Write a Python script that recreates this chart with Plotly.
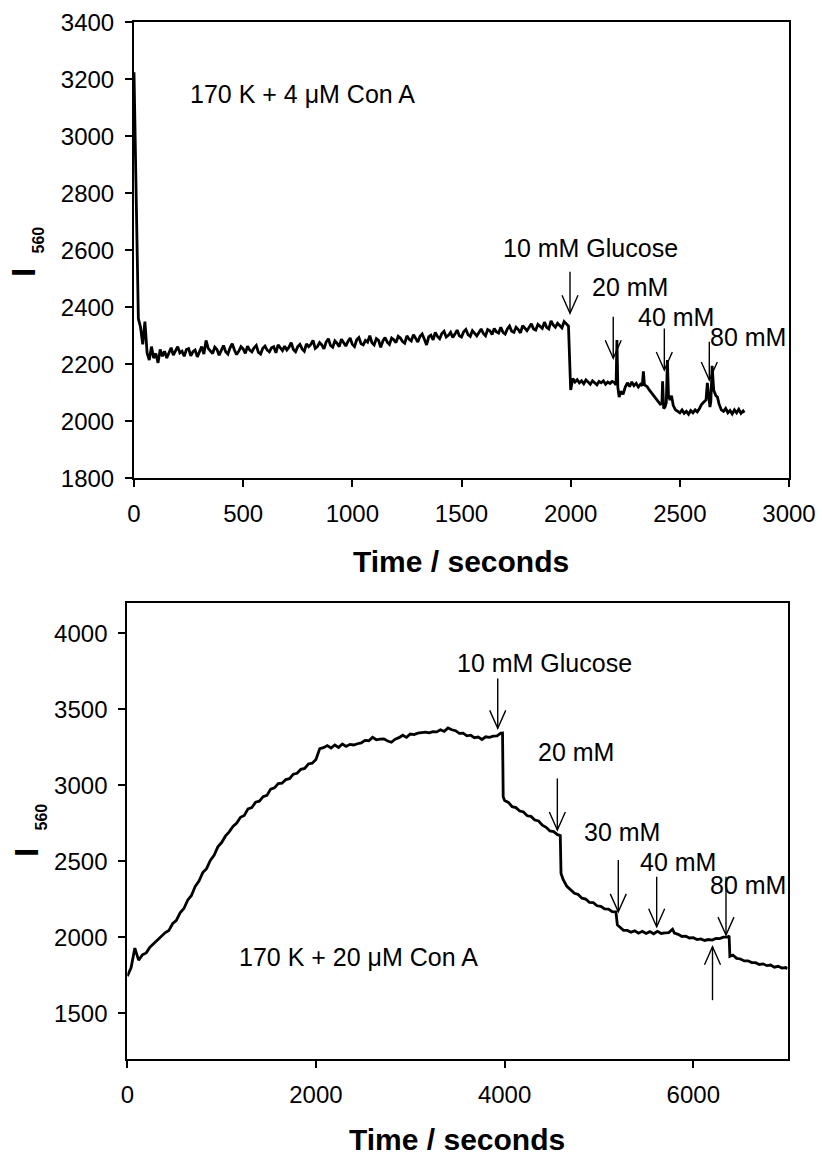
import plotly.graph_objects as go

# ---------------- data ----------------
# Upper panel: 170 K + 4 uM Con A, intensity at 560 nm vs time (s)
top_t = list(range(0, 2000, 10)) + [
    2000, 2010, 2020, 2030, 2040, 2050, 2060, 2070, 2080, 2090,
    2100, 2110, 2120, 2130, 2140, 2150, 2160, 2170, 2180, 2190,
    2200, 2208, 2212, 2216, 2222, 2230, 2240, 2250, 2260, 2270,
    2280, 2290, 2300, 2310, 2320, 2328, 2333, 2338, 2350, 2360,
    2370, 2380, 2390, 2400, 2410, 2418, 2421, 2426, 2432, 2438,
    2443, 2448, 2455, 2462, 2470, 2480, 2490, 2500, 2510, 2520,
    2530, 2540, 2550, 2560, 2570, 2580, 2590, 2600, 2610, 2620,
    2626, 2632, 2638, 2642, 2648, 2655, 2665, 2672, 2680, 2690,
    2700, 2710, 2720, 2730, 2740, 2750, 2760, 2770, 2780, 2790, 2795,
]
top_i = [
    3225, 2800, 2360, 2330, 2270, 2350, 2240, 2215, 2262, 2222, 2238, 2205, 2252, 2228, 2246, 2222, 2242, 2258, 2232, 2250,
    2262, 2240, 2246, 2228, 2252, 2255, 2230, 2244, 2250, 2226, 2248, 2262, 2236, 2284, 2256, 2248, 2238, 2260, 2252, 2232,
    2248, 2266, 2244, 2236, 2258, 2272, 2250, 2234, 2246, 2262, 2254, 2238, 2264, 2250, 2244, 2258, 2266, 2242, 2236, 2256,
    2264, 2250, 2244, 2258, 2262, 2240, 2268, 2256, 2248, 2264, 2250, 2260, 2276, 2252, 2244, 2262, 2270, 2254, 2246, 2272,
    2262, 2270, 2284, 2256, 2262, 2276, 2268, 2254, 2278, 2290, 2266, 2260, 2282, 2274, 2262, 2288, 2276, 2264, 2280, 2292,
    2270, 2262, 2286, 2294, 2272, 2268, 2284, 2278, 2300, 2276, 2268, 2290, 2284, 2260, 2282, 2294, 2278, 2270, 2292, 2286,
    2276, 2298, 2292, 2280, 2274, 2300, 2288, 2282, 2304, 2290, 2278, 2298, 2306, 2288, 2268, 2296, 2302, 2286, 2312, 2298,
    2290, 2308, 2316, 2296, 2302, 2312, 2294, 2306, 2320, 2300, 2296, 2314, 2322, 2304, 2298, 2318, 2310, 2300, 2312, 2324,
    2308, 2300, 2322, 2318, 2304, 2326, 2314, 2310, 2330, 2312, 2306, 2324, 2334, 2316, 2312, 2330, 2322, 2310, 2336, 2326,
    2318, 2330, 2342, 2324, 2320, 2340, 2334, 2326, 2348, 2330, 2324, 2352, 2338, 2330, 2344, 2336, 2328, 2350, 2342, 2334,
    2110, 2150, 2138, 2146, 2135, 2142, 2132, 2145, 2138, 2130,
    2142, 2136, 2128, 2140, 2135, 2142, 2130, 2138, 2133, 2140,
    2136, 2128, 2285, 2120, 2085, 2105, 2095, 2120, 2135, 2122,
    2138, 2125, 2133, 2120, 2130, 2125, 2175, 2128, 2122, 2110,
    2100, 2090, 2082, 2070, 2060, 2062, 2140, 2045, 2050, 2065,
    2215, 2090, 2075, 2090, 2055, 2040, 2035, 2030, 2040, 2028,
    2035, 2025, 2038, 2030, 2040, 2033, 2045, 2060, 2068, 2075,
    2135, 2100, 2050, 2070, 2195, 2110, 2090, 2085, 2060, 2040,
    2035, 2045, 2030, 2038, 2026, 2040, 2030, 2042, 2028, 2036, 2030,
]

# Lower panel: 170 K + 20 uM Con A
bot_t = [
    0, 40, 80, 120, 160, 200, 240, 280, 320, 360, 400, 440, 480, 520, 560, 600, 640, 680, 720, 760,
    800, 840, 880, 920, 960, 1000, 1040, 1080, 1120, 1160, 1200, 1240, 1280, 1320, 1360, 1400, 1440, 1480, 1520, 1560,
    1600, 1640, 1680, 1720, 1760, 1800, 1840, 1880, 1920, 1960, 2000, 2040, 2080, 2120, 2160, 2200, 2240, 2280, 2320, 2360,
    2400, 2440, 2480, 2520, 2560, 2600, 2640, 2680, 2720, 2760, 2800, 2840, 2880, 2920, 2960, 3000, 3040, 3080, 3120, 3160,
    3200, 3240, 3280, 3320, 3360, 3400, 3440, 3480, 3520, 3560, 3600, 3640, 3680, 3720, 3760, 3800, 3840, 3880, 3920, 3960,
    3978, 3985, 4000, 4040, 4080, 4120, 4160, 4200, 4240, 4280, 4320, 4360, 4400, 4440, 4480, 4520, 4560, 4590,
    4598, 4620, 4660, 4700, 4740, 4780, 4820, 4860, 4900, 4940, 4980, 5020, 5060, 5100, 5140, 5180,
    5195, 5220, 5260, 5300, 5340, 5380, 5420, 5460, 5500, 5540, 5580, 5620, 5660, 5700, 5740, 5780, 5800, 5840, 5880, 5920,
    5960, 6000, 6040, 6080, 6120, 6160, 6200, 6240, 6280, 6320, 6360, 6380,
    6388, 6420, 6460, 6500, 6540, 6580, 6620, 6660, 6700, 6740, 6780, 6820, 6860, 6900, 6940, 6980, 7000,
]
bot_i = [
    1745, 1800, 1930, 1850, 1885, 1898, 1935, 1958, 1980, 2002, 2030, 2045, 2090, 2112, 2162, 2190, 2245, 2276, 2336, 2370,
    2426, 2452, 2506, 2540, 2596, 2624, 2666, 2694, 2730, 2752, 2790, 2802, 2846, 2854, 2890, 2896, 2926, 2934, 2976, 2984,
    3012, 3014, 3038, 3044, 3074, 3080, 3106, 3112, 3141, 3146, 3170, 3242, 3248, 3262, 3246, 3266, 3250, 3272, 3256, 3270,
    3266, 3274, 3280, 3296, 3294, 3316, 3300, 3304, 3306, 3292, 3284, 3304, 3314, 3330, 3316, 3338, 3334, 3344, 3346, 3350,
    3346, 3354, 3352, 3366, 3356, 3378, 3366, 3360, 3342, 3344, 3326, 3330, 3314, 3318, 3302, 3320, 3316, 3324, 3326, 3344,
    3345, 2925, 2900, 2888, 2860, 2854, 2832, 2825, 2800, 2796, 2772, 2766, 2738, 2724, 2700, 2696, 2676, 2670,
    2420, 2382, 2336, 2316, 2290, 2282, 2258, 2252, 2230, 2229, 2208, 2204, 2188, 2186, 2170, 2168,
    2082, 2068, 2046, 2046, 2034, 2044, 2028, 2040, 2026, 2038, 2024, 2040, 2026, 2030, 2032, 2054, 2028, 2020, 2006, 2008,
    1996, 1998, 1986, 1990, 1980, 1986, 1982, 1993, 1992, 2002, 2002, 2010,
    1875, 1884, 1862, 1858, 1845, 1846, 1834, 1834, 1822, 1826, 1814, 1818, 1804, 1810, 1798, 1802, 1794,
]

top_xticks = [0, 500, 1000, 1500, 2000, 2500, 3000]
top_yticks = [1800, 2000, 2200, 2400, 2600, 2800, 3000, 3200, 3400]
bot_xticks = [0, 2000, 4000, 6000]
bot_yticks = [1500, 2000, 2500, 3000, 3500, 4000]

# glucose additions: (time, arrow tail, arrow tip)
top_arrows = [(1997, 2525, 2379), (2195, 2367, 2221), (2429, 2326, 2180), (2635, 2279, 2145)]
bot_arrows = [(3927, 3704, 3375), (4559, 3046, 2706), (5205, 2509, 2168),
              (5612, 2399, 2070), (6347, 2399, 2015), (6204, 1587, 1938)]

# labels: (text, time, intensity)
top_labels = [("10 mM Glucose", 2089, 2608), ("20 mM", 2272, 2471),
              ("40 mM", 2482, 2367), ("80 mM", 2812, 2297)]
bot_labels = [("10 mM Glucose", 4428, 3803), ("20 mM", 4756, 3221), ("30 mM", 5241, 2695),
              ("40 mM", 5841, 2497), ("80 mM", 6583, 2344)]

# ---------------- figure ----------------
W, H = 822, 1159
FONT = "Liberation Sans, Arial, Helvetica, sans-serif"

fig = go.Figure()
fig.add_trace(go.Scatter(x=top_t, y=top_i, mode="lines", line=dict(color="black", width=2.8),
                         xaxis="x", yaxis="y", showlegend=False, hoverinfo="skip"))
fig.add_trace(go.Scatter(x=bot_t, y=bot_i, mode="lines", line=dict(color="black", width=2.8),
                         xaxis="x2", yaxis="y2", showlegend=False, hoverinfo="skip"))

axis_style = dict(showline=True, linecolor="black", linewidth=2, mirror=True,
                  ticks="outside", ticklen=7, tickwidth=2, tickcolor="black",
                  showgrid=False, zeroline=False, automargin=False,
                  tickfont=dict(family=FONT, size=24, color="black"))

fig.update_layout(
    template="none",
    width=W, height=H, margin=dict(l=0, r=0, t=0, b=0, pad=0, autoexpand=False),
    plot_bgcolor="white", paper_bgcolor="white",
    xaxis=dict(domain=[134 / W, 789 / W], range=[0, 3000], tickvals=top_xticks, anchor="y",
               ticklabelstandoff=6, **axis_style),
    yaxis=dict(domain=[1 - 478.3 / H, 1 - 22.3 / H], range=[1800, 3400], tickvals=top_yticks,
               anchor="x", ticklabelstandoff=6, **axis_style),
    xaxis2=dict(domain=[127.3 / W, 787.6 / W], range=[0, 7000], tickvals=bot_xticks, anchor="y2",
                ticklabelstandoff=6, **axis_style),
    yaxis2=dict(domain=[1 - 1059 / H, 1 - 603 / H], range=[1200, 4200], tickvals=bot_yticks,
                anchor="x2", ticklabelstandoff=6, **axis_style),
)

shapes = []


def add_arrow(xref, yref, t, tail, tip):
    # shaft in data units, open V head in pixels anchored at the tip
    shapes.append(dict(type="line", xref=xref, yref=yref, x0=t, x1=t, y0=tail, y1=tip,
                       line=dict(color="black", width=1.4)))
    sgn = 1 if tip < tail else -1
    shapes.append(dict(type="path", xref=xref, yref=yref,
                       xsizemode="pixel", ysizemode="pixel", xanchor=t, yanchor=tip,
                       path=f"M -8 {18 * sgn} L 0 0 L 8 {18 * sgn}",
                       line=dict(color="black", width=1.4)))


for t, tail, tip in top_arrows:
    add_arrow("x", "y", t, tail, tip)
for t, tail, tip in bot_arrows:
    add_arrow("x2", "y2", t, tail, tip)
fig.update_layout(shapes=shapes)

LBL = dict(family=FONT, size=25, color="black")
ann = []
for text, t, v in top_labels:
    ann.append(dict(text=text, x=t, y=v, xref="x", yref="y", showarrow=False,
                    xanchor="center", yanchor="middle", font=LBL))
for text, t, v in bot_labels:
    ann.append(dict(text=text, x=t, y=v, xref="x2", yref="y2", showarrow=False,
                    xanchor="center", yanchor="middle", font=LBL))

ann.append(dict(text="170 K + 4 \u03bcM Con A", x=247, y=3148, xref="x", yref="y",
                xanchor="left", yanchor="middle", showarrow=False, font=LBL))
ann.append(dict(text="170 K + 20 \u03bcM Con A", x=1163, y=1870, xref="x2", yref="y2",
                xanchor="left", yanchor="middle", showarrow=False, font=LBL))

# axis titles
for cx, cy in [(461.5, 561), (457.5, 1139)]:
    ann.append(dict(text="<b>Time / seconds</b>", x=cx / W, y=1 - cy / H, xref="paper", yref="paper",
                    xanchor="center", yanchor="middle", showarrow=False,
                    font=dict(family=FONT, size=30, color="black")))
for (ix, iy), (sx, sy) in [((24, 273), (37.5, 240)), ((26.5, 852.5), (41, 817.5))]:
    ann.append(dict(text="<b>I</b>", x=ix / W, y=1 - iy / H, xref="paper", yref="paper",
                    xanchor="center", yanchor="middle", textangle=-90, showarrow=False,
                    font=dict(family=FONT, size=33, color="black")))
    ann.append(dict(text="<b>560</b>", x=sx / W, y=1 - sy / H, xref="paper", yref="paper",
                    xanchor="center", yanchor="middle", textangle=-90, showarrow=False,
                    font=dict(family=FONT, size=16, color="black")))

fig.update_layout(annotations=ann)

fig.write_html("out.html")
